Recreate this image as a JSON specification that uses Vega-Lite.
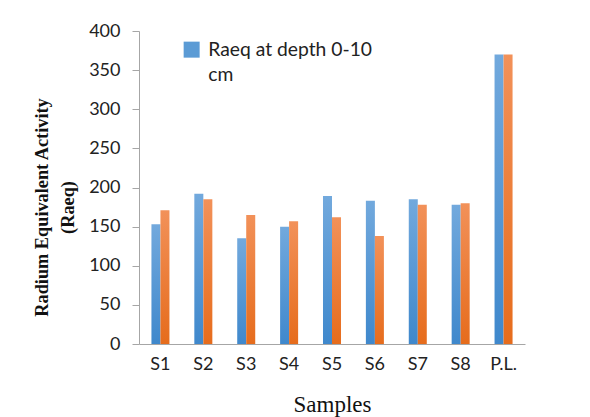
{
  "$schema": "https://vega.github.io/schema/vega-lite/v6.json",
  "width": 386,
  "height": 313,
  "autosize": {"type": "none"},
  "padding": {"left": 139, "top": 31, "right": 65, "bottom": 73},
  "background": "white",
  "config": {
    "view": {"stroke": null},
    "font": "Lato",
    "axis": {"grid": false, "domainColor": "#a6a6a6", "tickColor": "#a6a6a6", "labelColor": "#222", "labelFontSize": 18, "labelFont": "Lato"}
  },
  "data": {
    "values": [
      {"sample": "S1", "series": "Raeq at depth 0-10 cm", "value": 153},
      {"sample": "S1", "series": "Raeq at depth 10-20 cm", "value": 171},
      {"sample": "S2", "series": "Raeq at depth 0-10 cm", "value": 192},
      {"sample": "S2", "series": "Raeq at depth 10-20 cm", "value": 185},
      {"sample": "S3", "series": "Raeq at depth 0-10 cm", "value": 135},
      {"sample": "S3", "series": "Raeq at depth 10-20 cm", "value": 165},
      {"sample": "S4", "series": "Raeq at depth 0-10 cm", "value": 150},
      {"sample": "S4", "series": "Raeq at depth 10-20 cm", "value": 157},
      {"sample": "S5", "series": "Raeq at depth 0-10 cm", "value": 189},
      {"sample": "S5", "series": "Raeq at depth 10-20 cm", "value": 162},
      {"sample": "S6", "series": "Raeq at depth 0-10 cm", "value": 183},
      {"sample": "S6", "series": "Raeq at depth 10-20 cm", "value": 138},
      {"sample": "S7", "series": "Raeq at depth 0-10 cm", "value": 185},
      {"sample": "S7", "series": "Raeq at depth 10-20 cm", "value": 178},
      {"sample": "S8", "series": "Raeq at depth 0-10 cm", "value": 178},
      {"sample": "S8", "series": "Raeq at depth 10-20 cm", "value": 180},
      {"sample": "P.L.", "series": "Raeq at depth 0-10 cm", "value": 370},
      {"sample": "P.L.", "series": "Raeq at depth 10-20 cm", "value": 370}
    ]
  },
  "encoding": {
    "x": {
      "field": "sample", "type": "nominal", "sort": null,
      "scale": {"paddingInner": 0.58, "paddingOuter": 0.29},
      "axis": {"title": "Samples", "titleFont": "Liberation Serif", "titleFontSize": 23, "titleFontWeight": "normal", "titleColor": "#111", "titlePadding": 20, "labelAngle": 0, "ticks": false, "labelPadding": 11}
    },
    "xOffset": {"field": "series", "type": "nominal", "scale": {"domain": ["Raeq at depth 0-10 cm", "Raeq at depth 10-20 cm"], "paddingInner": 0}},
    "y": {
      "field": "value", "type": "quantitative",
      "scale": {"domain": [0, 400]},
      "axis": {"values": [0, 50, 100, 150, 200, 250, 300, 350, 400], "tickSize": 7, "labelPadding": 12, "title": ["Radium Equivalent Activity", "(Raeq)"], "titleFont": "Liberation Serif", "titleFontSize": 18.3, "titleFontWeight": "bold", "titleColor": "#111", "titleX": -88, "titleY": 176, "titleLineHeight": 26}
    }
  },
  "layer": [
    {
      "transform": [{"filter": "datum.series == 'Raeq at depth 0-10 cm'"}],
      "mark": {"type": "bar", "fill": {"gradient": "linear", "x1": 0, "y1": 0, "x2": 0, "y2": 1, "stops": [{"offset": 0, "color": "#72a9dd"}, {"offset": 1, "color": "#3f88cc"}]}}
    },
    {
      "transform": [{"filter": "datum.series == 'Raeq at depth 10-20 cm'"}],
      "mark": {"type": "bar", "fill": {"gradient": "linear", "x1": 0, "y1": 0, "x2": 0, "y2": 1, "stops": [{"offset": 0, "color": "#f29159"}, {"offset": 1, "color": "#e66c1c"}]}}
    },
    {
      "transform": [{"filter": "datum.series == 'Raeq at depth 0-10 cm'"}],
      "mark": {"type": "bar", "opacity": 0},
      "encoding": {
        "color": {
          "field": "series", "type": "nominal",
          "scale": {"domain": ["Raeq at depth 0-10 cm"], "range": ["#5b9bd5"]},
          "legend": {"title": null, "orient": "none", "legendX": 43, "legendY": 9, "symbolType": "square", "symbolSize": 256, "symbolOpacity": 1, "symbolStrokeWidth": 0, "labelFontSize": 19.3, "labelFont": "Lato", "labelColor": "#222", "labelOffset": 7, "labelBaseline": "middle", "labelLimit": 300,
            "labelExpr": "['Raeq at depth 0-10', 'cm']",
            "encode": {"labels": {"update": {"lineHeight": {"value": 25}}}}}
        }
      }
    }
  ]
}
